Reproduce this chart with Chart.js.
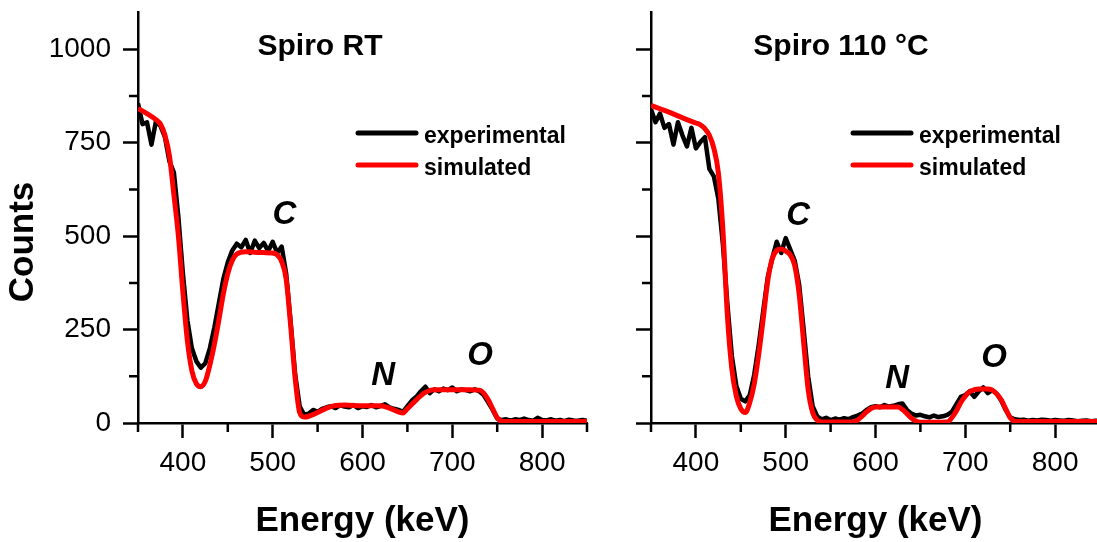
<!DOCTYPE html>
<html>
<head>
<meta charset="utf-8">
<script src="https://cdn.jsdelivr.net/npm/chart.js@4"></script>
<style>
  html, body { margin: 0; padding: 0; background: #fff; overflow: hidden; }
  body { width: 1097px; height: 542px; position: relative; }
  canvas { position: absolute; top: 0; }
  #rtChart { left: 0; }
  #hotChart { left: 600px; }
</style>
</head>
<body>
<canvas id="rtChart" width="600" height="542"></canvas>
<canvas id="hotChart" width="510" height="542"></canvas>
<script>
// measured spectra share one energy grid (keV)
const expEnergy = [
  350, 355, 360, 365, 370, 375, 380, 385, 390, 395,
  400, 405, 410, 415, 420, 425, 430, 435, 440, 445,
  450, 455, 460, 465, 470, 475, 480, 485, 490, 495,
  500, 505, 510, 515, 520, 525, 530, 535, 540, 545,
  550, 555, 560, 565, 570, 575, 580, 585, 590, 595,
  600, 605, 610, 615, 620, 625, 630, 635, 640, 645,
  650, 655, 660, 665, 670, 675, 680, 685, 690, 695,
  700, 705, 710, 715, 720, 725, 730, 735, 740, 745,
  750, 755, 760, 765, 770, 775, 780, 785, 790, 795,
  800, 805, 810, 815, 820, 825, 830, 835, 840, 845,
  850
];

const rtExperimental = [
  855, 800, 805, 745, 808, 795, 765, 700, 670, 550,
  400, 275, 200, 165, 148, 160, 200, 255, 320, 385,
  430, 462, 480, 470, 490, 455, 488, 468, 482, 460,
  485, 455, 472, 400, 270, 130, 45, 22, 25, 35,
  30, 38, 42, 45, 40, 48, 44, 42, 48, 40,
  45, 43, 48, 42, 45, 50, 42, 38, 35, 30,
  45, 60, 70, 85, 97, 80, 90, 85, 92, 88,
  95, 85, 90, 88, 85, 90, 85, 75, 55, 35,
  12, 8, 10, 6, 10, 8, 12, 8, 6, 14,
  8, 7, 10, 6, 8, 5, 9, 7, 6, 8,
  6
];

const hotExperimental = [
  840, 805, 828, 790, 800, 745, 805, 770, 740, 790,
  735, 752, 765, 680, 660, 600, 480, 320, 180, 100,
  65, 58, 75, 130, 210, 300, 390, 440, 485, 455,
  495, 465, 435, 370, 250, 125, 45, 18, 10, 14,
  8, 12, 9, 13, 10, 16, 20, 25, 35, 42,
  45, 42, 48, 44, 46, 50, 52, 35, 25, 20,
  22, 18, 15, 20, 16, 18, 22, 30, 50, 70,
  75, 85, 70, 85, 95, 80, 88, 78, 60, 35,
  15, 10, 8, 9, 6, 8, 7, 9, 8, 6,
  8, 7, 6, 8, 7, 5, 6, 7, 5, 6,
  6
];

// simulated spectra (smooth, sampled where the shape changes)
const rtSimEnergy = [350, 360, 370, 375, 380, 385, 390, 395, 400, 405, 410, 415, 420, 425, 430, 435, 440, 445, 450, 455,
  460, 470, 480, 490, 500, 505, 510, 515, 520, 525, 530, 535, 540, 550, 560, 570, 580, 600, 620, 630,
  640, 645, 650, 660, 670, 680, 700, 720, 730, 735, 740, 745, 750, 755, 760, 850];
const rtSimulated = [842, 828, 812, 800, 770, 715, 610, 500, 350, 220, 140, 105, 97, 112, 155, 210, 275, 345, 400, 435,
  452, 458, 457, 456, 455, 450, 432, 385, 260, 120, 28, 16, 18, 28, 40, 47, 48, 46, 46, 40,
  30, 27, 38, 62, 82, 89, 89, 89, 88, 80, 62, 38, 14, 5, 4, 4];

const hotSimEnergy = [350, 360, 370, 380, 390, 400, 405, 410, 415, 420, 425, 430, 435, 440, 445, 450, 455, 460, 465, 470,
  475, 480, 485, 490, 495, 500, 505, 510, 515, 520, 525, 530, 535, 540, 575, 580, 585, 590, 595, 600,
  625, 630, 635, 640, 645, 650, 680, 685, 690, 695, 700, 705, 710, 715, 725, 730, 735, 740, 745, 750,
  755, 760, 850];
const hotSimulated = [850, 841, 832, 822, 812, 803, 798, 788, 770, 735, 670, 520, 290, 145, 72, 38, 28, 55, 105, 185,
  280, 380, 440, 462, 466, 460, 450, 422, 345, 215, 90, 28, 8, 3, 3, 8, 18, 30, 39, 43,
  43, 36, 25, 13, 5, 2, 3, 14, 32, 55, 72, 84, 89, 91, 91, 88, 78, 62, 38, 14,
  5, 4, 4];

// labelled ticks
const energyTicks = [400, 500, 600, 700, 800];
const countTicks = [0, 250, 500, 750, 1000];

const legendLabels = ['experimental', 'simulated'];
const peakNames = ['C', 'N', 'O'];

const FONT = '"Liberation Sans", Arial, Helvetica, sans-serif';
Chart.defaults.font.family = FONT;
Chart.defaults.color = '#000';

const toPoints = (xs, ys) => xs.map((x, i) => ({ x: x, y: ys[i] }));

// small unlabeled ticks halfway between the labeled ones
const minorTicks = {
  id: 'minorTicks',
  afterDraw(chart) {
    const { ctx, scales: { x, y } } = chart;
    ctx.save();
    ctx.strokeStyle = '#000';
    ctx.lineWidth = 2.5;
    ctx.beginPath();
    for (let v = 350; v <= x.max; v += 100) {
      const px = x.getPixelForValue(v);
      ctx.moveTo(px, x.top);
      ctx.lineTo(px, x.top + 9);
    }
    for (let v = 125; v < y.max; v += 250) {
      const py = y.getPixelForValue(v);
      ctx.moveTo(y.right, py);
      ctx.lineTo(y.right - 9, py);
    }
    ctx.stroke();
    ctx.restore();
  }
};

// panel title, y title, element labels and the line legend
const decorations = {
  id: 'decorations',
  afterDatasetsDraw(chart, args, opts) {
    const { ctx, chartArea: area, scales: { x, y } } = chart;
    ctx.save();
    ctx.fillStyle = '#000';
    ctx.textAlign = 'center';
    ctx.textBaseline = 'alphabetic';
    ctx.font = 'bold 30px ' + FONT;
    ctx.fillText(opts.title, area.left + opts.titleX, area.top + opts.titleY);

    if (opts.yTitle) {
      ctx.save();
      ctx.translate(33, 242);
      ctx.rotate(-Math.PI / 2);
      ctx.font = 'bold 35px ' + FONT;
      ctx.fillText(opts.yTitle, 0, 0);
      ctx.restore();
    }

    ctx.font = 'italic bold 33px ' + FONT;
    ctx.textBaseline = 'middle';
    opts.peaks.forEach((p, i) => {
      ctx.fillText(peakNames[i], x.getPixelForValue(p[0]), y.getPixelForValue(p[1]));
    });

    ctx.textAlign = 'left';
    ctx.textBaseline = 'alphabetic';
    ctx.font = 'bold 23px ' + FONT;
    ctx.lineCap = 'round';
    legendLabels.forEach((label, i) => {
      const ds = chart.data.datasets.find(d => d.label === label);
      const lx = area.left + opts.legendX;
      const ly = area.top + opts.legendY + i * 32;
      ctx.strokeStyle = ds.borderColor;
      ctx.lineWidth = 5;
      ctx.beginPath();
      ctx.moveTo(lx, ly);
      ctx.lineTo(lx + 58, ly);
      ctx.stroke();
      ctx.fillText(label, lx + 66, ly + 10);
    });
    ctx.restore();
  }
};

const fixedTicks = values => scale => {
  scale.ticks = values.map(v => ({ value: v }));
};

const makeChart = (id, cfg) => new Chart(document.getElementById(id), {
  type: 'line',
  data: {
    datasets: [
      {
        label: 'simulated',
        data: toPoints(cfg.simEnergy, cfg.simulated),
        borderColor: '#ff0000',
        borderWidth: 5,
        pointRadius: 0,
        cubicInterpolationMode: 'monotone',
        borderJoinStyle: 'round',
        order: 1
      },
      {
        label: 'experimental',
        data: toPoints(expEnergy, cfg.experimental),
        borderColor: '#000000',
        borderWidth: 4.5,
        pointRadius: 0,
        tension: 0,
        borderJoinStyle: 'round',
        order: 2
      }
    ]
  },
  options: {
    responsive: false,
    animation: false,
    events: [],
    layout: { padding: { top: 12, right: cfg.padRight, left: 0, bottom: 0 } },
    plugins: {
      legend: { display: false },
      tooltip: { enabled: false },
      decorations: cfg.decor
    },
    scales: {
      x: {
        type: 'linear',
        min: 350,
        max: 850,
        afterBuildTicks: fixedTicks(energyTicks),
        ticks: { maxRotation: 0, autoSkip: false, padding: 8, font: { size: 28 }, callback: v => String(v) },
        grid: { drawOnChartArea: false, tickLength: 15, tickWidth: 2.5, tickColor: '#000' },
        border: { color: '#000', width: 2.5 },
        title: { display: true, text: 'Energy (keV)', font: { size: 35, weight: 'bold' }, padding: { top: 0, bottom: 0 } },
        afterFit: s => { s.height = 119; s.paddingLeft = 0; s.paddingRight = 0; }
      },
      y: {
        min: 0,
        max: 1100,
        afterBuildTicks: fixedTicks(countTicks),
        ticks: { display: cfg.yLabels, autoSkip: false, padding: 12, font: { size: 28 }, callback: v => String(v) },
        grid: { drawOnChartArea: false, tickLength: 15, tickWidth: 2.5, tickColor: '#000' },
        border: { color: '#000', width: 2.5 },
        afterFit: s => { s.width = cfg.yWidth; s.paddingTop = 0; s.paddingBottom = 0; }
      }
    }
  },
  plugins: [minorTicks, decorations]
});

makeChart('rtChart', {
  experimental: rtExperimental,
  simEnergy: rtSimEnergy,
  simulated: rtSimulated,
  yLabels: true,
  yWidth: 138,
  padRight: 13,
  decor: {
    title: 'Spiro RT', titleX: 182, titleY: 43,
    yTitle: 'Counts',
    legendX: 220, legendY: 121,
    peaks: [[513, 556], [623, 126], [731, 180]]
  }
});

makeChart('hotChart', {
  experimental: hotExperimental,
  simEnergy: hotSimEnergy,
  simulated: hotSimulated,
  yLabels: false,
  yWidth: 51,
  padRight: 10,
  decor: {
    title: 'Spiro 110 °C', titleX: 190, titleY: 43,
    legendX: 202, legendY: 121,
    peaks: [[514, 554], [624, 118], [732, 175]]
  }
});
</script>
</body>
</html>
